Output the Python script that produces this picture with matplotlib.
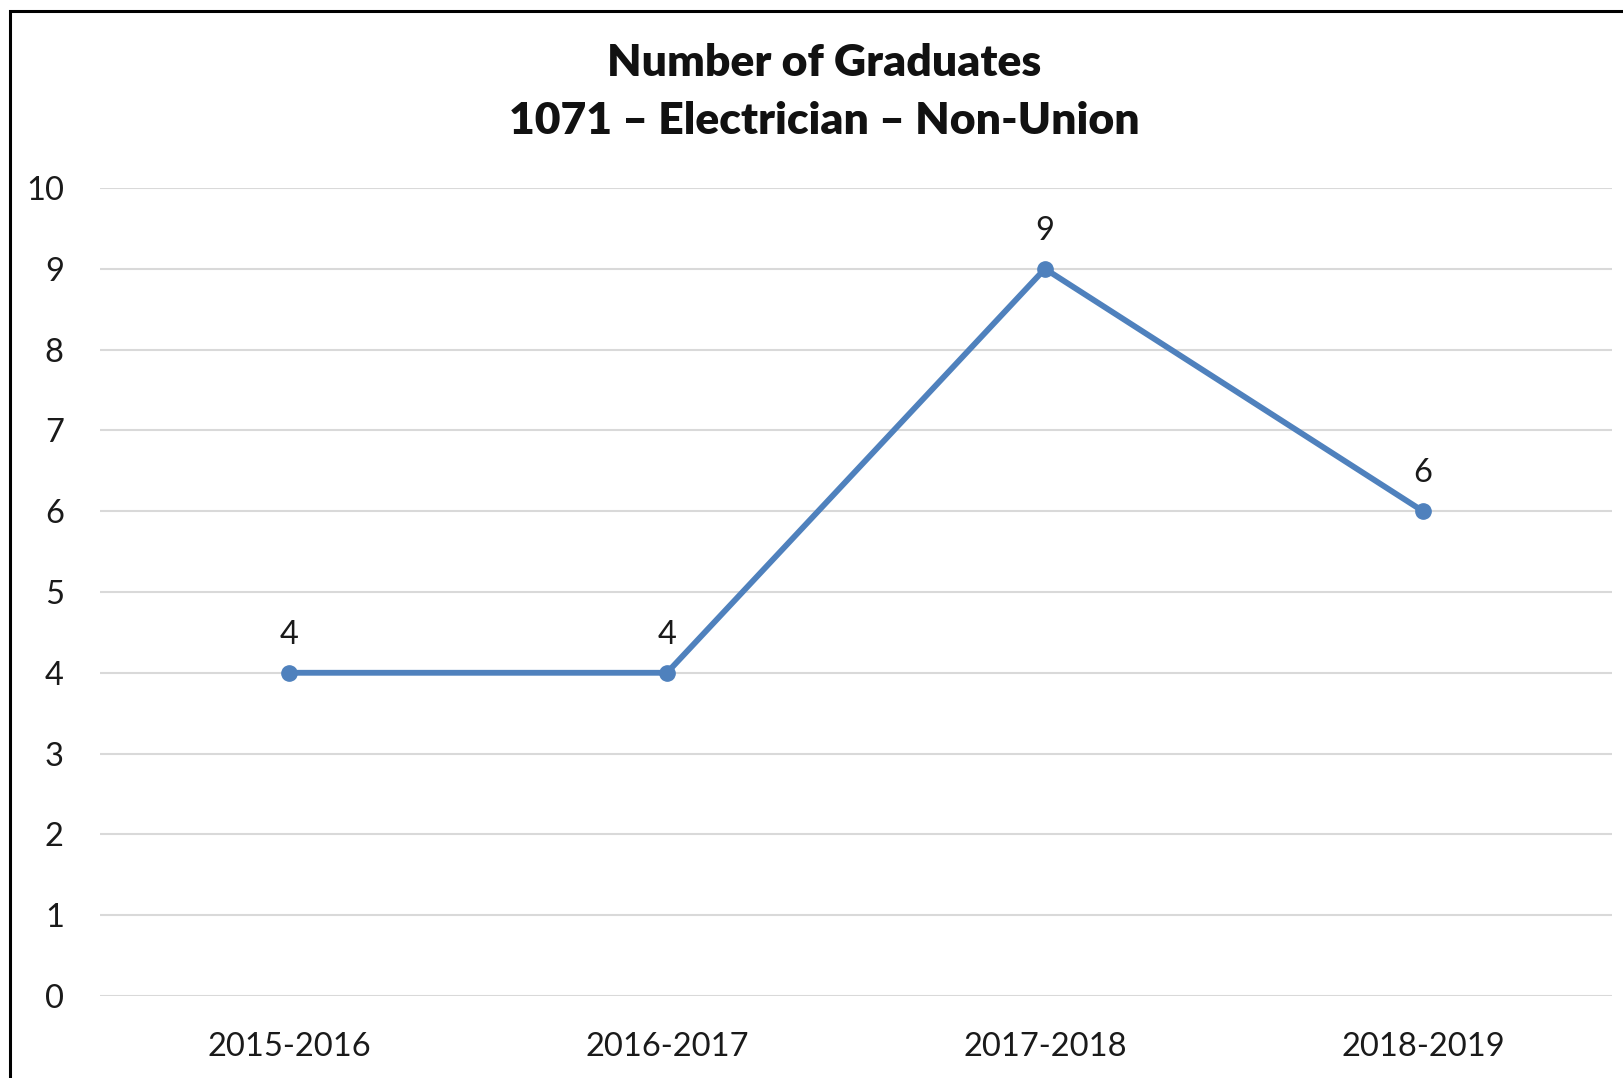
import matplotlib
matplotlib.use("Agg")
import matplotlib.pyplot as plt
from matplotlib.patches import Rectangle

years = ['2015-2016', '2016-2017', '2017-2018', '2018-2019']
graduates = [4, 4, 9, 6]
yticks = list(range(0, 11))

plt.rcParams['font.family'] = ['Lato', 'DejaVu Sans']

fig = plt.figure(figsize=(16.23, 10.78), dpi=100)
ax = fig.add_axes([0.0616, 0.0761, 0.9316, 0.7495])

x = list(range(len(years)))
ax.plot(x, graduates, color='#4F81BD', linewidth=4.2, marker='o', markersize=11, zorder=3)
for xi, v in zip(x, graduates):
    ax.annotate(str(v), (xi, v), xytext=(0, 27.5), textcoords='offset points',
                ha='center', va='center', fontsize=23.5, color='#1a1a1a')

ax.set_xlim(-0.5, len(years) - 0.5)
ax.set_ylim(0, 10)
ax.set_yticks(yticks)
ax.set_xticks(x)
ax.set_xticklabels(years)
ax.tick_params(axis='both', length=0, labelsize=23.5, labelcolor='#1a1a1a')
ax.tick_params(axis='y', pad=26)
ax.tick_params(axis='x', pad=26)
ax.grid(axis='y', color='#D9D9D9', linewidth=1.5)
ax.set_axisbelow(True)
for s in ax.spines.values():
    s.set_visible(False)

fig.text(0.508, 1 - 63 / 1078, 'Number of Graduates', ha='center', va='center',
         fontsize=32, fontweight='heavy', color='#111111')
fig.text(0.508, 1 - 121 / 1078, '1071 \u2013 Electrician \u2013 Non-Union', ha='center', va='center',
         fontsize=32, fontweight='heavy', color='#111111')

# outer chart border (right/bottom edges fall outside the image)
fig.patches.append(Rectangle((10 / 1623, -0.1), 1.2, 1.1 - 11 / 1078, transform=fig.transFigure,
                             fill=False, edgecolor='black', linewidth=2.2, clip_on=False))

fig.savefig('out.png', dpi=100)
